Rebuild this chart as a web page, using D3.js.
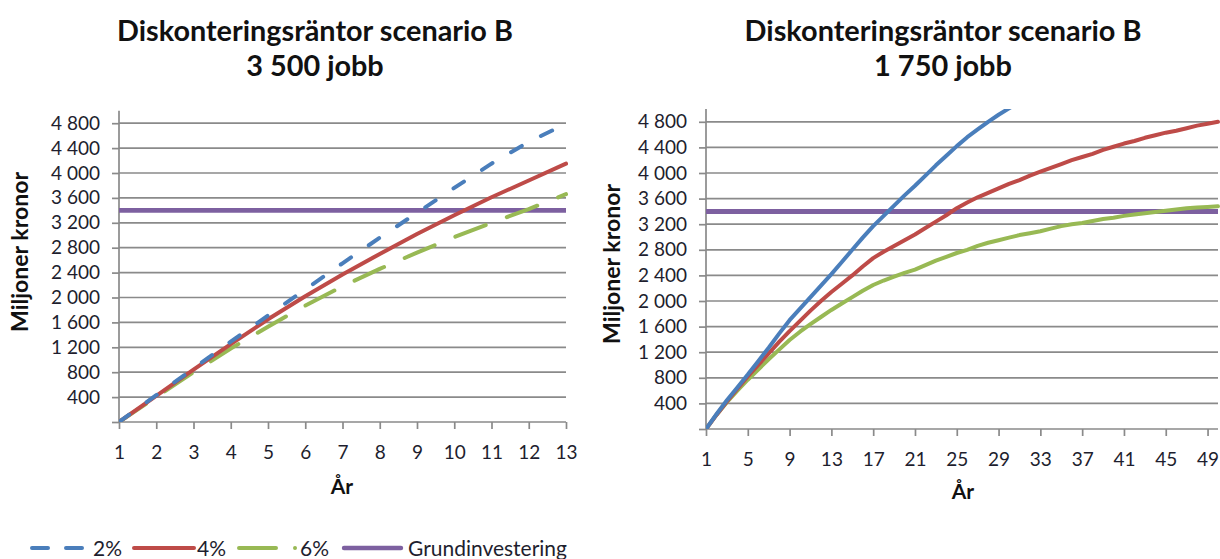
<!DOCTYPE html>
<html><head><meta charset="utf-8">
<script src="https://cdn.jsdelivr.net/npm/d3@7"></script>
<style>
html,body{margin:0;padding:0;background:#fff;}
svg{display:block;}
text{font-family:Lato,"Open Sans",sans-serif;}
</style></head>
<body>
<svg id="c" width="1220" height="559"></svg>
<script>
// ---------- DATA ----------
const yearsL = [1,2,3,4,5,6,7,8,9,10,11,12,13];
const pct2L  = [0,430,860,1290,1710,2130,2550,2960,3360,3760,4150,4500,4790];
const pct4L  = [0,420,840,1250,1650,2020,2370,2700,3020,3320,3610,3880,4150];
const pct6L  = [0,400,800,1180,1530,1870,2180,2460,2720,2970,3200,3420,3660];

const yearsR = [1,2,3,4,5,6,7,8,9,10,11,12,13,14,15,16,17,18,19,20,21,22,23,24,25,
                26,27,28,29,30,31,32,33,34,35,36,37,38,39,40,41,42,43,44,45,46,47,48,49,50];
const pct2R = [0,230,450,650,850,1060,1270,1490,1700,1880,2060,2240,2420,2610,2800,2990,3170,
               3330,3490,3650,3800,3960,4120,4270,4420,4560,4680,4800,4910,5010,5110];
const pct4R = [0,220,430,630,820,1000,1180,1360,1530,1690,1850,2000,2140,2270,2400,2540,2670,
               2770,2860,2950,3040,3140,3240,3340,3450,3540,3620,3690,3760,3830,3890,3960,4020,
               4080,4140,4200,4250,4300,4360,4410,4460,4500,4550,4590,4630,4660,4700,4740,4770,4800];
const pct6R = [0,220,420,600,770,930,1090,1240,1390,1520,1640,1750,1860,1960,2060,2160,2250,
               2320,2380,2440,2490,2560,2630,2690,2750,2800,2860,2910,2950,2990,3030,3060,3090,
               3130,3170,3200,3220,3250,3280,3300,3330,3350,3370,3390,3410,3430,3450,3460,3470,3480];
const grundinvestering = 3400;

const yTicks = [0,400,800,1200,1600,2000,2400,2800,3200,3600,4000,4400,4800];
const xTicksR = [1,5,9,13,17,21,25,29,33,37,41,45,49];
const titleLine1 = "Diskonteringsräntor scenario B";
const titleLine2L = "3 500 jobb";
const titleLine2R = "1 750 jobb";
const yTitle = "Miljoner kronor";
const xTitle = "År";
const seriesNames = ["2%","4%","6%","Grundinvestering"];

// ---------- STYLE ----------
const C = {blue:"#4A7EBB", red:"#BE4B48", green:"#98B954", purple:"#7D60A0", grid:"#8A8A8A", text:"#1e1e2e"};
const svg = d3.select("#c");
const loc = d3.formatLocale({decimal:",", thousands:"\u00a0", grouping:[3], currency:["",""]});
const fmt = loc.format(",d");

function fit(sel, target){
  const base = 20;
  sel.style("font-size", base+"px");
  const w = sel.node().getComputedTextLength();
  const s = base*target/w;
  sel.style("font-size", s+"px");
  return s;
}

function chart(o){
  const g = svg.append("g");
  const x = d3.scaleLinear().domain(o.xDomain).range(o.xRange);
  const y = d3.scaleLinear().domain([0,5000]).range(o.yRange);
  const [x0,x1] = o.xRange, [yb,yt] = o.yRange;

  // gridlines
  g.append("g").selectAll("line").data(yTicks.filter(d=>d>0)).join("line")
    .attr("x1",x0).attr("x2",x1).attr("y1",d=>y(d)).attr("y2",d=>y(d))
    .attr("stroke",C.grid).attr("stroke-width",1.7);

  // y axis
  const ya = g.append("g").attr("transform",`translate(${x0},0)`)
    .call(d3.axisLeft(y).tickValues(yTicks).tickSize(7).tickPadding(12)
      .tickFormat(d=> d===0 ? "" : fmt(d)));
  ya.select(".domain").attr("stroke",C.grid).attr("stroke-width",1.7)
    .attr("d",`M0,${yb}V${yt}`);
  ya.selectAll(".tick line").attr("stroke",C.grid).attr("stroke-width",1.7);
  ya.selectAll(".tick text").attr("fill",C.text).style("font-size",o.tickFs+"px")
    .style("font-family","Lato, sans-serif");

  // x axis
  const xa = g.append("g").attr("transform",`translate(0,${yb})`)
    .call(d3.axisBottom(x).tickValues(o.xTicks).tickSize(7).tickFormat(d3.format("d")));
  xa.select(".domain").attr("stroke",C.grid).attr("stroke-width",1.7)
    .attr("d",`M${x0},0H${x1}`);
  xa.selectAll(".tick line").attr("stroke",C.grid).attr("stroke-width",1.7);
  xa.selectAll(".tick text").attr("fill",C.text).attr("y",37).attr("dy",0)
    .style("font-size",o.tickFs+"px").style("font-family","Lato, sans-serif");

  // clip
  const cid = "clip"+o.id;
  svg.append("clipPath").attr("id",cid).append("rect")
    .attr("x",x0).attr("y",yt).attr("width",x1-x0+4).attr("height",yb-yt);
  const plot = g.append("g").attr("clip-path",`url(#${cid})`);

  const line = d3.line().x((d,i)=>x(o.years[i])).y(d=>y(d));
  // purple base line
  plot.append("line").attr("x1",x0).attr("x2",x1).attr("y1",y(grundinvestering)).attr("y2",y(grundinvestering))
    .attr("stroke",C.purple).attr("stroke-width",o.purpleW);
  const series = [
    {v:o.s6, c:C.green, dash:o.dash6},
    {v:o.s4, c:C.red, dash:null},
    {v:o.s2, c:C.blue, dash:o.dash2}
  ];
  series.forEach(s=>{
    plot.append("path").datum(s.v).attr("d",line).attr("fill","none")
      .attr("stroke",s.c).attr("stroke-width",o.lineW)
      .attr("stroke-linecap","round").attr("stroke-linejoin","round")
      .attr("stroke-dasharray",s.dash);
  });

  // titles
  const t1 = g.append("text").attr("x",o.titleX).attr("y",41).attr("text-anchor","middle")
    .attr("font-weight","bold").attr("fill","#111").text(titleLine1);
  const fs = fit(t1, o.titleW);
  g.append("text").attr("x",o.titleX).attr("y",76).attr("text-anchor","middle")
    .attr("font-weight","bold").attr("fill","#111").style("font-size",fs+"px").text(o.title2);

  g.append("text").attr("transform",`translate(${o.yTitleX},${o.yTitleY}) rotate(-90)`)
    .attr("text-anchor","middle").attr("dy","0.35em").attr("font-weight","bold").attr("fill","#111")
    .style("font-size","20px").text(yTitle).call(s=>fit(s,160));
  g.append("text").attr("x",o.xTitleX).attr("y",o.xTitleY).attr("text-anchor","middle")
    .attr("dy","0.35em").attr("font-weight","bold").attr("fill","#111")
    .style("font-size","21px").text(xTitle);
}

chart({id:"L", xDomain:[1,13], xRange:[119,566], yRange:[422, 422-5000/400*24.9],
  xTicks:yearsL, years:yearsL, s2:pct2L, s4:pct4L, s6:pct6L,
  lineW:4, purpleW:4.8, dash2:"12.5,21.5", dash6:"32.5,22.5",
  titleX:315, titleW:396, title2:titleLine2L, tickFs:19,
  yTitleX:20, yTitleY:252, xTitleX:342, xTitleY:487});

chart({id:"R", xDomain:[1,50], xRange:[706,1218], yRange:[429, 429-5000/400*25.6],
  xTicks:xTicksR, years:yearsR, s2:pct2R, s4:pct4R, s6:pct6R,
  lineW:4, purpleW:5, dash2:null, dash6:null,
  titleX:943, titleW:397, title2:titleLine2R, tickFs:19,
  yTitleX:612, yTitleY:264, xTitleX:963, xTitleY:492});

// ---------- LEGEND ----------
const lg = svg.append("g");
const ly = 548;
const items = [
  {name:seriesNames[0], c:C.blue, x0:32, x1:85, dash:"16,18", tx:93, w:4},
  {name:seriesNames[1], c:C.red, x0:134, x1:194, dash:null, tx:197, w:4},
  {name:seriesNames[2], c:C.green, x0:239, x1:298, dash:"37,19,0.01,30", tx:300, w:4},
  {name:seriesNames[3], c:C.purple, x0:344, x1:401, dash:null, tx:408, w:4.4}
];
items.forEach(it=>{
  lg.append("line").attr("x1",it.x0).attr("x2",it.x1).attr("y1",ly).attr("y2",ly)
    .attr("stroke",it.c).attr("stroke-width",it.w).attr("stroke-linecap","round")
    .attr("stroke-dasharray",it.dash);
});
let legFs = 18;
items.forEach((it,i)=>{
  const t = lg.append("text").attr("x",it.tx).attr("y",ly).attr("dy","0.36em")
    .attr("fill",C.text).text(it.name);
  if(i===3){ legFs = fit(t,159); }
});
lg.selectAll("text").style("font-size",legFs+"px");
</script>
</body></html>
